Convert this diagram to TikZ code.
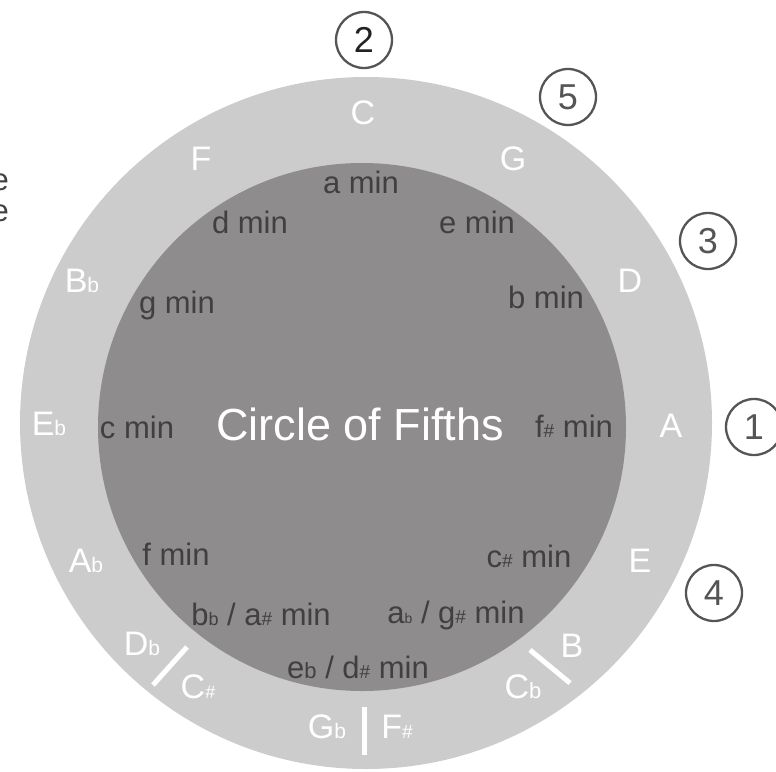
\documentclass[tikz,border=0pt]{standalone}
\usepackage{fontspec}
\setmainfont{Liberation Sans}
\definecolor{ringgray}{HTML}{CCCCCC}
\definecolor{coregray}{HTML}{8E8C8D}
\definecolor{mintext}{HTML}{404040}
\definecolor{numline}{HTML}{555555}
\definecolor{numdark}{HTML}{222222}
\newcommand\acc[2]{{\fontsize{#1}{#1}\selectfont #2}}
\begin{document}
\begin{tikzpicture}[x=1pt,y=-1pt,
  major/.style={text=white, font=\fontsize{34}{34}\selectfont, inner sep=0pt, anchor=base},
  minor/.style={text=mintext, font=\fontsize{31}{31}\selectfont, inner sep=0pt, anchor=base},
  num/.style={circle, draw=numline, line width=2.3pt, minimum size=56pt, inner sep=0pt, text=numline, font=\fontsize{36}{36}\selectfont},
  divider/.style={white, line width=5pt},
  titletext/.style={text=white, font=\fontsize{45}{45}\selectfont, inner sep=0pt, anchor=base}]
\useasboundingbox (0,0) rectangle (776,771);
\clip (0,0) rectangle (776,771);
% rings
\fill[ringgray] (366,423) circle[radius=346pt];
\fill[coregray] (362,427) circle[radius=264pt];
% cut-off fragments at the left edge
\node[minor, anchor=base east] (frag1) at (9,190) {e};
\node[minor, anchor=base east] (frag2) at (9,221) {e};
% title
\node[titletext] (title) at (360,440) {Circle of Fifths};
% major keys
\node[major] (kC)  at (363,124) {C};
\node[major] (kG)  at (513,170) {G};
\node[major] (kD)  at (630,292) {D};
\node[major] (kA)  at (671,437) {A};
\node[major] (kE)  at (640,572) {E};
\node[major] (kB)  at (572,657) {B};
\node[major] (kCb) at (523,698) {C\acc{22}{b}};
\node[major] (kFs) at (397,738) {F\acc{19}{\#}};
\node[major] (kGb) at (327,738) {G\acc{21}{b}};
\node[major] (kCs) at (198,698) {C\acc{18}{\#}};
\node[major] (kDb) at (142,655) {D\acc{21}{b}};
\node[major] (kAb) at (86,572) {A\acc{21}{b}};
\node[major] (kEb) at (49,435) {E\acc{21}{b}};
\node[major] (kBb) at (82,292) {B\acc{21}{b}};
\node[major] (kF)  at (201,170) {F};
% dividers
\draw[divider] (187,647) -- (153,685);
\draw[divider] (530,650) -- (570,683);
\draw[divider] (364,707) -- (364,755);
% minor keys
\node[minor] (ma)  at (361,193) {a min};
\node[minor] (me)  at (477,233) {e min};
\node[minor] (mb)  at (546,308) {b min};
\node[minor] (mfs) at (574,437) {f\acc{19}{\#} min};
\node[minor] (mcs) at (529,567) {c\acc{19}{\#} min};
\node[minor] (mab) at (456,623) {a\acc{14}{b} / g\acc{19}{\#} min};
\node[minor] (meb) at (358,678) {e\acc{22}{b} / d\acc{19}{\#} min};
\node[minor] (mbb) at (261,625) {b\acc{18}{b} / a\acc{19}{\#} min};
\node[minor] (mf)  at (176,565) {f min};
\node[minor] (mc)  at (137,438) {c min};
\node[minor] (mg)  at (177,313) {g min};
\node[minor] (md)  at (250,233) {d min};
% numbered circles
\node[num, text=numdark] (n2) at (364,40) {2};
\node[num] (n5) at (568,97) {5};
\node[num] (n3) at (708,241) {3};
\node[num] (n1) at (754,427) {1};
\node[num] (n4) at (714,593) {4};
\end{tikzpicture}
\end{document}
